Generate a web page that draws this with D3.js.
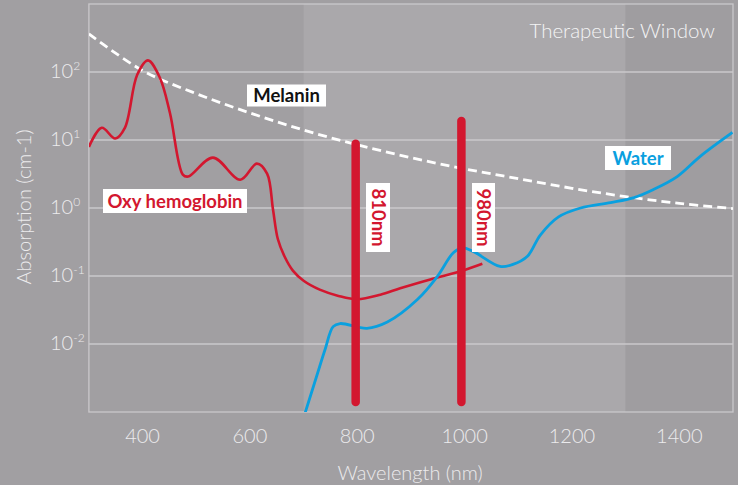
<!DOCTYPE html>
<html>
<head>
<meta charset="utf-8">
<script src="https://cdn.jsdelivr.net/npm/d3@7"></script>
<style>
  html, body { margin: 0; padding: 0; background: #a19fa2; }
  svg { display: block; }
  text { font-family: Lato, "Open Sans", sans-serif; }
</style>
</head>
<body>
<svg id="chart" width="738" height="485"></svg>
<script>
// ---------- data ----------
const wavelengthTicks = [400, 600, 800, 1000, 1200, 1400];
const decadeExponents = [-2, -1, 0, 1, 2];

const bandStart = [300, 700, 1300];
const bandEnd = [700, 1300, 1500];
const bandColor = ["#a19fa2", "#aaa8ab", "#9f9da0"];

const melaninNm  = [300, 400, 500, 600, 700, 800, 900, 1000, 1100, 1200, 1300, 1400, 1500];
const melaninVal = [363, 105, 48, 25, 14, 8.5, 5.5, 3.76, 2.7, 1.95, 1.47, 1.17, 0.98];

const oxyNm  = [300, 324, 349, 367, 390, 410, 432, 451, 475, 485, 531, 582, 613, 632, 643, 652, 665, 680, 700, 730, 765, 800, 843, 880, 936, 992, 1033];
const oxyVal = [7.9, 15.1, 10.5, 15.1, 91, 148, 83, 25, 3.1, 2.9, 5.5, 2.6, 4.5, 3.2, 0.95, 0.35, 0.19, 0.12, 0.085, 0.063, 0.051, 0.0455, 0.053, 0.066, 0.089, 0.117, 0.151];

const waterNm  = [703, 725, 740, 755, 768, 818, 856, 912, 949, 979, 996, 1016, 1066, 1090, 1117, 1141, 1175, 1216, 1272, 1314, 1351, 1396, 1439, 1499];
const waterVal = [0.00098, 0.0035, 0.0083, 0.018, 0.020, 0.017, 0.021, 0.045, 0.098, 0.22, 0.26, 0.23, 0.138, 0.148, 0.195, 0.40, 0.74, 1.0, 1.2, 1.41, 1.86, 2.9, 5.75, 12.9];

const laserNm = [797, 994];
const laserTop = [8.8, 19];
const laserBottom = [0.0014, 0.0014];
const laserLabels = ["810nm", "980nm"];

// ---------- layout ----------
const svg = d3.select("#chart");
const x = d3.scaleLinear().domain([300, 1500]).range([88.9, 733]);
const y = d3.scaleLog().domain([1e-3, 1e3]).range([412, 4]);

const textColor = "#ecebed";
const gridColor = "#cac8cb";
const red = "#d3172f";
const blue = "#0aa0df";

// bands
svg.append("g").selectAll("rect").data(bandStart).join("rect")
  .attr("x", (d) => x(d))
  .attr("y", y(1e3))
  .attr("width", (d, i) => x(bandEnd[i]) - x(d))
  .attr("height", y(1e-3) - y(1e3))
  .attr("fill", (d, i) => bandColor[i]);

// grid
svg.append("g").selectAll("line").data(decadeExponents).join("line")
  .attr("x1", x(300)).attr("x2", x(1500))
  .attr("y1", (d) => y(Math.pow(10, d))).attr("y2", (d) => y(Math.pow(10, d)))
  .attr("stroke", gridColor).attr("stroke-width", 1.3);

// frame
svg.append("rect")
  .attr("x", x(300)).attr("y", y(1e3))
  .attr("width", x(1500) - x(300)).attr("height", y(1e-3) - y(1e3))
  .attr("fill", "none").attr("stroke", gridColor).attr("stroke-width", 1.3);

// x tick labels
svg.append("g").selectAll("text").data(wavelengthTicks).join("text")
  .attr("x", (d) => x(d)).attr("y", 443)
  .attr("text-anchor", "middle")
  .attr("font-size", 20).attr("font-weight", 300)
  .attr("fill", textColor)
  .text((d) => d);

// y tick labels
const yt = svg.append("g").selectAll("text").data(decadeExponents).join("text")
  .attr("x", 50).attr("y", (d) => y(Math.pow(10, d)) + 6)
  .attr("font-size", 20).attr("font-weight", 300)
  .attr("fill", textColor);
yt.append("tspan").text("10");
yt.append("tspan").attr("dy", -8).attr("font-size", 12).text((d) => d);

// axis titles
svg.append("text")
  .attr("x", 410).attr("y", 480)
  .attr("text-anchor", "middle")
  .attr("font-size", 20).attr("font-weight", 300)
  .attr("fill", textColor)
  .text("Wavelength (nm)");

svg.append("text")
  .attr("transform", "translate(31,207) rotate(-90)")
  .attr("text-anchor", "middle")
  .attr("font-size", 20).attr("font-weight", 300)
  .attr("fill", textColor)
  .text("Absorption (cm-1)");

svg.append("text")
  .attr("x", 715).attr("y", 38)
  .attr("text-anchor", "end")
  .attr("font-size", 20.5).attr("font-weight", 300)
  .attr("fill", "#f4f4f5")
  .text("Therapeutic Window");

// clip
svg.append("clipPath").attr("id", "plotclip").append("rect")
  .attr("x", x(300)).attr("y", y(1e3))
  .attr("width", x(1500) - x(300)).attr("height", y(1e-3) - y(1e3));

const plot = svg.append("g").attr("clip-path", "url(#plotclip)");

const line = d3.line().curve(d3.curveCatmullRom.alpha(0.5));

// melanin
plot.append("path")
  .attr("d", line(melaninNm.map((d, i) => [x(d), y(melaninVal[i])])))
  .attr("fill", "none").attr("stroke", "#ffffff")
  .attr("stroke-width", 2.8).attr("stroke-dasharray", "9,5");

// oxy hemoglobin
plot.append("path")
  .attr("d", line(oxyNm.map((d, i) => [x(d), y(oxyVal[i])])))
  .attr("fill", "none").attr("stroke", red).attr("stroke-width", 2.6);

// water
plot.append("path")
  .attr("d", line(waterNm.map((d, i) => [x(d), y(waterVal[i])])))
  .attr("fill", "none").attr("stroke", blue).attr("stroke-width", 2.8);

// laser bars
svg.append("g").selectAll("line").data(laserNm).join("line")
  .attr("x1", (d) => x(d)).attr("x2", (d) => x(d))
  .attr("y1", (d, i) => y(laserTop[i])).attr("y2", (d, i) => y(laserBottom[i]))
  .attr("stroke", red).attr("stroke-width", 8.5).attr("stroke-linecap", "round");

// labels with white boxes
function boxLabel(cx, cy, w, h, txt, color, rotate) {
  const g = svg.append("g").attr("transform", `translate(${cx},${cy})` + (rotate ? " rotate(90)" : ""));
  g.append("rect").attr("x", -w / 2).attr("y", -h / 2).attr("width", w).attr("height", h).attr("fill", "#ffffff");
  g.append("text").attr("x", 0).attr("y", 6.5)
    .attr("text-anchor", "middle")
    .attr("font-size", 18.5).attr("font-weight", 700)
    .attr("fill", color).text(txt);
}
boxLabel(286.5, 95.5, 79, 22, "Melanin", "#111111", false);
boxLabel(175, 201, 144, 24, "Oxy hemoglobin", red, false);
boxLabel(638, 158, 66, 24, "Water", blue, false);
boxLabel(378, 217.5, 69, 24, laserLabels[0], red, true);
boxLabel(483.5, 217.5, 69, 23, laserLabels[1], red, true);
</script>
</body>
</html>
